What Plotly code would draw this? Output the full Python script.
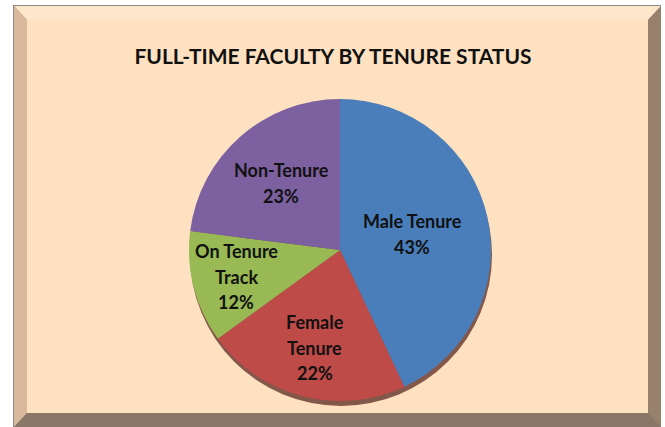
import math
import plotly.graph_objects as go

labels = ["Male Tenure", "Female Tenure", "On Tenure Track", "Non-Tenure"]
label_lines = [["Male Tenure"], ["Female", "Tenure"], ["On Tenure", "Track"], ["Non-Tenure"]]
values = [43, 22, 12, 23]
colors = ["#4A7EBB", "#BE4B48", "#98B954", "#7D60A0"]
title = "FULL-TIME FACULTY BY TENURE STATUS"

# label placement (fraction of the radius along each slice's bisector)
label_radius = [0.49, 0.67, 0.71, 0.59]

W, H = 665, 427
FONT = "Lato"

def px(x):
    return x / W

def py(y):
    return 1 - y / H

def path(pts):
    return "M " + " L ".join(f"{px(x):.5f},{py(y):.5f}" for x, y in pts) + " Z"

shapes = []
def poly(pts, color):
    shapes.append(dict(type="path", xref="paper", yref="paper", path=path(pts),
                       fillcolor=color, line=dict(width=0), layer="below"))

# frame
L, T, R, B = 13, 5, 661, 427
bw = 13
poly([(L, T), (R, T), (R, B), (L, B)], "#8A8A8A")
L1, T1, R1, B1 = L + 1, T + 1, R, B
poly([(L1, T1), (R1, T1), (R1 - bw, T1 + 14), (L1 + bw, T1 + 14)], "#FDE6CA")
poly([(L1, T1), (L1 + bw, T1 + 14), (L1 + bw, B1 - 14), (L1, B1)], "#D9B89C")
poly([(R1, T1), (R1, B1), (R1 - bw, B1 - 14), (R1 - bw, T1 + 14)], "#97806C")
poly([(L1, B1), (R1, B1), (R1 - bw, B1 - 14), (L1 + bw, B1 - 14)], "#8A7767")
poly([(L1 + bw, T1 + 14), (R1 - bw, T1 + 14), (R1 - bw, B1 - 14), (L1 + bw, B1 - 14)], "#FDE1C0")

# pie geometry
cx, cy, r = 340, 250, 151
shapes.append(dict(type="circle", xref="paper", yref="paper",
                   x0=px(cx - r + 1), x1=px(cx + r + 1), y0=py(cy + r + 5), y1=py(cy - r + 5),
                   fillcolor="rgba(90,40,35,0.75)", line=dict(width=0), layer="below"))

fig = go.Figure(go.Pie(
    labels=labels,
    values=values,
    sort=False,
    direction="clockwise",
    rotation=0,
    marker=dict(colors=colors, line=dict(width=0)),
    textinfo="none",
    hoverinfo="label+percent",
    domain=dict(x=[px(cx - r), px(cx + r)], y=[py(cy + r), py(cy - r)]),
    showlegend=False,
))

# data labels: along each slice bisector, computed from the values
total = sum(values)
annotations = []
cum = 0
LINE_H = 25.5
for lines, v, f in zip(label_lines, values, label_radius):
    theta = 2 * math.pi * (cum + v / 2) / total
    cum += v
    lx = cx + f * r * math.sin(theta)
    ly = cy - f * r * math.cos(theta)
    all_lines = lines + [f"{round(100 * v / total)}%"]
    n = len(all_lines)
    for i, t in enumerate(all_lines):
        yy = ly + (i - (n - 1) / 2) * LINE_H
        annotations.append(dict(text=f"<b>{t}</b>", x=px(lx), y=py(yy), xref="paper", yref="paper",
                                xanchor="center", yanchor="middle", showarrow=False,
                                font=dict(family=FONT, size=18, color="#111111")))

fig.update_layout(
    width=W, height=H,
    margin=dict(l=0, r=0, t=0, b=0),
    paper_bgcolor="white",
    plot_bgcolor="white",
    shapes=shapes,
    annotations=annotations,
    title=dict(text=f"<b>{title}</b>", x=333 / W, xanchor="center",
               y=py(57), yanchor="middle", yref="paper",
               font=dict(family=FONT, size=21, color="#111111")),
)

fig.write_html("out.html", config={"displayModeBar": False},
               post_script="document.body.style.margin='0';document.body.style.overflow='hidden';")
